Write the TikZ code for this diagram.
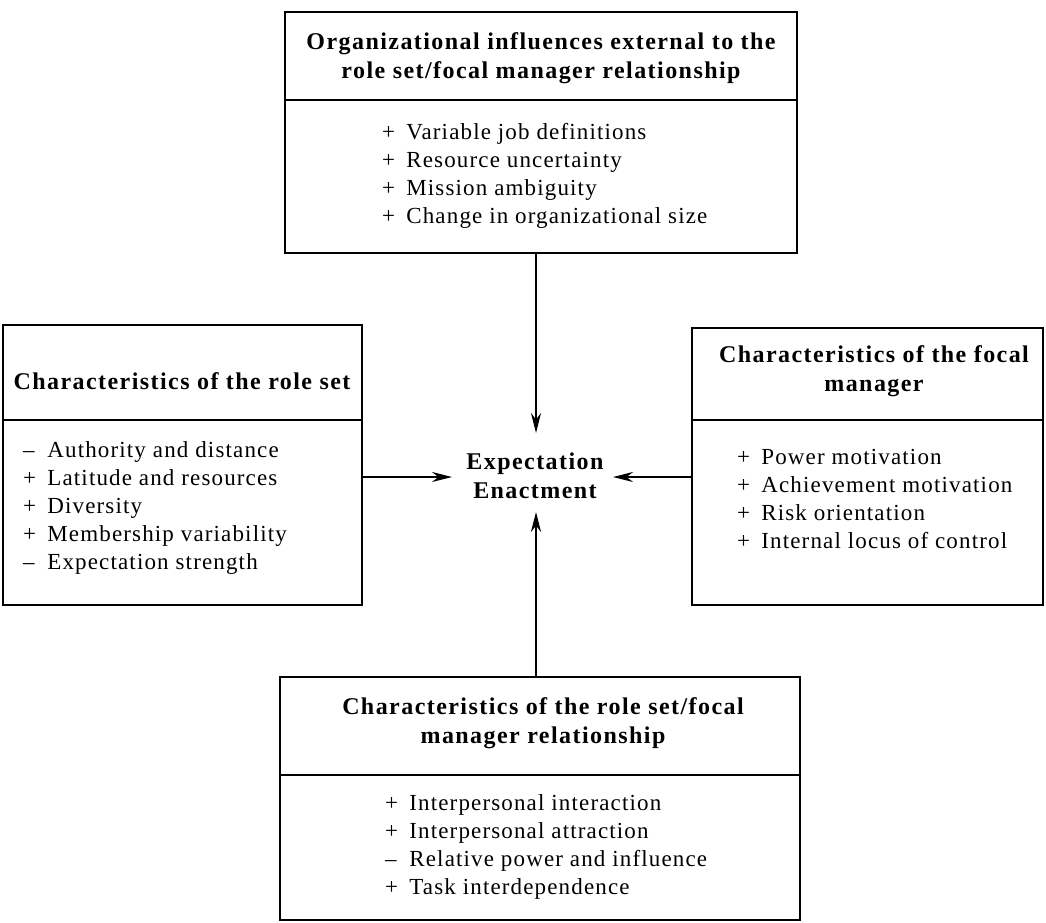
\documentclass[tikz,border=0pt]{standalone}
\usepackage{fontspec}
\setmainfont{Liberation Serif}
\newfontfamily\itemfont[LetterSpace=5]{Liberation Serif}
\newfontfamily\headfont[LetterSpace=6]{Liberation Serif}
\usetikzlibrary{arrows.meta}
\newcommand{\sgn}[1]{\makebox[1.05em][l]{#1}}
\tikzset{
  frame/.style={draw, line width=2.1pt, inner sep=0pt},
  headtext/.style={inner sep=0pt, align=center, font=\headfont\bfseries\fontsize{24}{28.5}\selectfont},
  itemtext/.style={inner sep=0pt, align=left, anchor=west, font=\itemfont\fontsize{23}{28}\selectfont},
  arr/.style={line width=2.2pt, -{Stealth[length=20pt,width=10pt]}}
}
\begin{document}
\begin{tikzpicture}[x=1pt,y=-1pt]
\useasboundingbox (0,0) rectangle (1046,922);
% frames
\node[frame, minimum width=512pt, minimum height=88pt] (th) at (541,56) {};
\node[frame, minimum width=512pt, minimum height=153pt] (tb) at (541,176.5) {};
\node[frame, minimum width=359pt, minimum height=95pt] (lh) at (182.5,372.5) {};
\node[frame, minimum width=359pt, minimum height=185pt] (lb) at (182.5,512.5) {};
\node[frame, minimum width=351pt, minimum height=92pt] (rh) at (867.5,374) {};
\node[frame, minimum width=351pt, minimum height=185pt] (rb) at (867.5,512.5) {};
\node[frame, minimum width=520pt, minimum height=98pt] (bh) at (540,726) {};
\node[frame, minimum width=520pt, minimum height=145pt] (bb) at (540,847.5) {};
% texts
\node[headtext] (tht) at (541,58) {Organizational influences external to the\\role set/focal manager relationship};
\node[itemtext] (tbt) at (382,176) {\sgn{+}Variable job definitions\\\sgn{+}Resource uncertainty\\\sgn{+}Mission ambiguity\\\sgn{+}Change in organizational size};
\node[headtext] (lht) at (182,381) {Characteristics of the role set};
\node[itemtext] (lbt) at (23,508) {\sgn{–}Authority and distance\\\sgn{+}Latitude and resources\\\sgn{+}Diversity\\\sgn{+}Membership variability\\\sgn{–}Expectation strength};
\node[headtext] (rht) at (874,371) {Characteristics of the focal\\manager};
\node[itemtext] (rbt) at (737,499) {\sgn{+}Power motivation\\\sgn{+}Achievement motivation\\\sgn{+}Risk orientation\\\sgn{+}Internal locus of control};
\node[headtext] (bht) at (543,723) {Characteristics of the role set/focal\\manager relationship};
\node[itemtext] (bbt) at (385,847) {\sgn{+}Interpersonal interaction\\\sgn{+}Interpersonal attraction\\\sgn{–}Relative power and influence\\\sgn{+}Task interdependence};
\node[headtext] (ee) at (535,476) {Expectation\\Enactment};
% arrow tips
\coordinate (tipT) at (536,433);
\coordinate (tipL) at (452,477);
\coordinate (tipR) at (613,477);
\coordinate (tipB) at (536,512);
\draw[arr] (tb.south -| tipT) -- (tipT);
\draw[arr] (lb.east |- tipL) -- (tipL);
\draw[arr] (rb.west |- tipR) -- (tipR);
\draw[arr] (bh.north -| tipB) -- (tipB);
\end{tikzpicture}
\end{document}
